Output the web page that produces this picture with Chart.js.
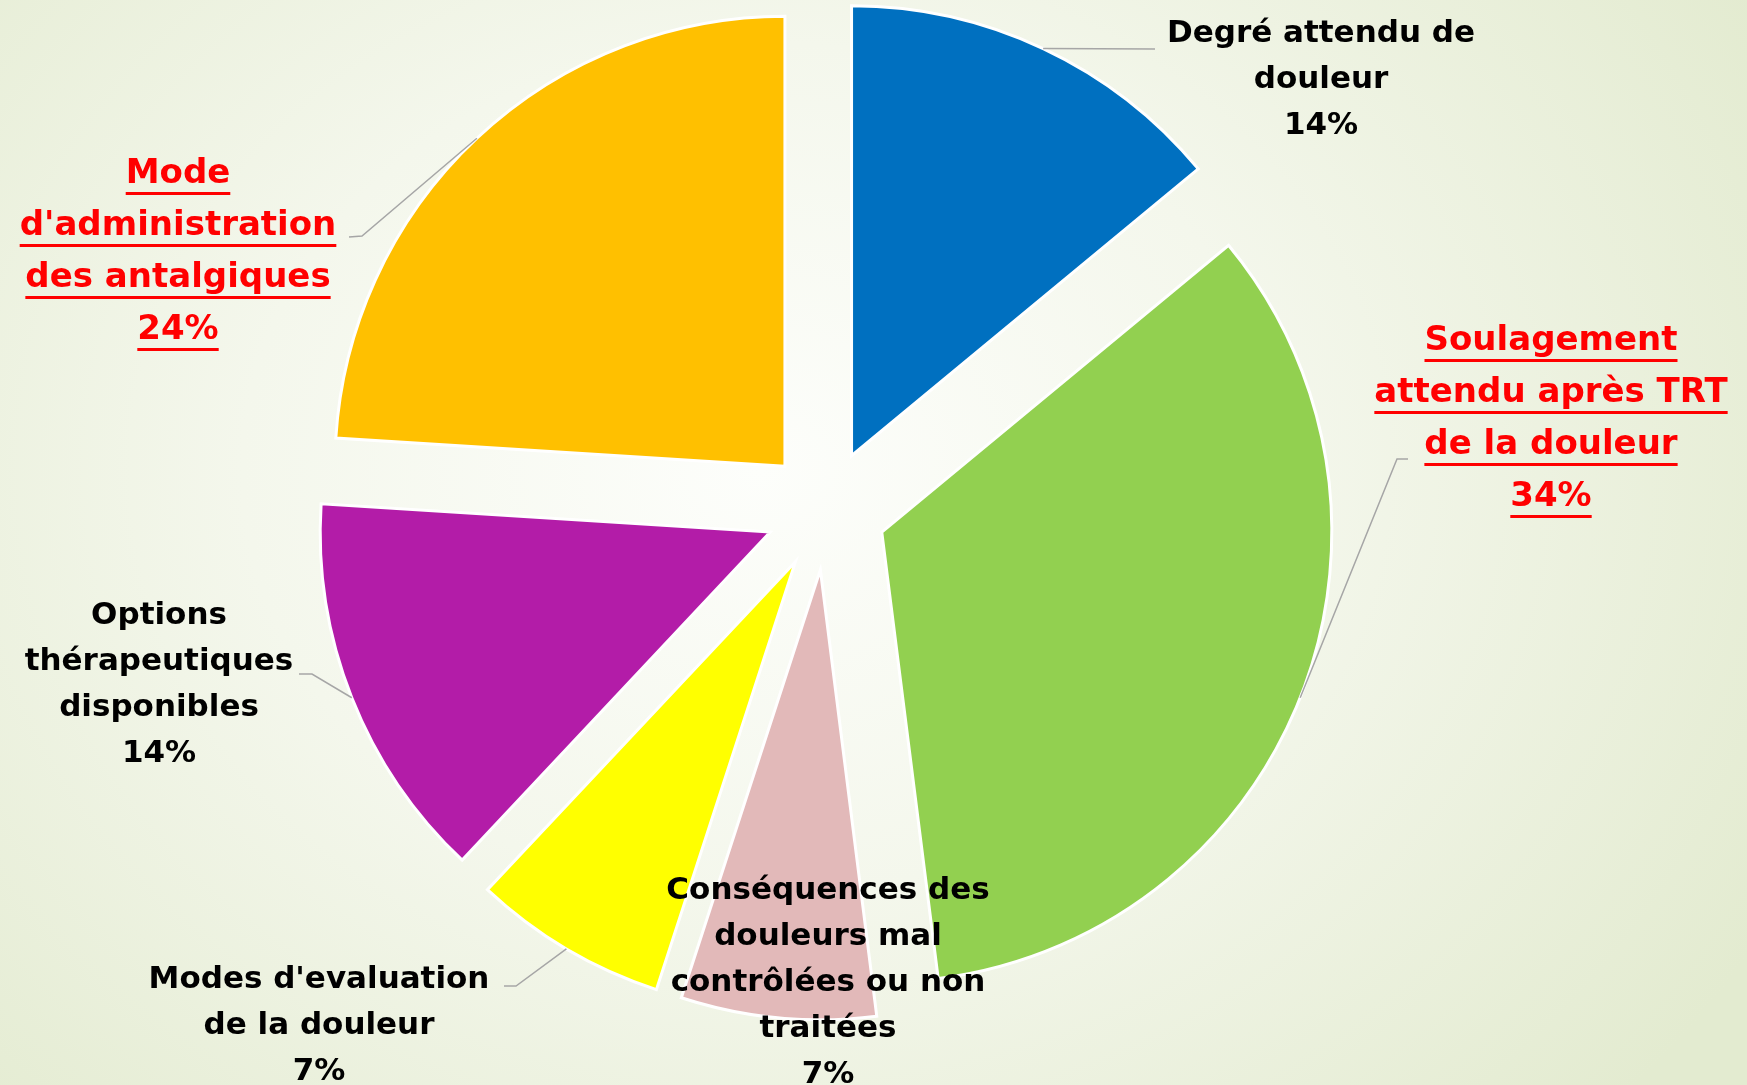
<!DOCTYPE html>
<html>
<head>
<meta charset="utf-8">
<script src="https://cdn.jsdelivr.net/npm/chart.js@4.4.1/dist/chart.umd.min.js"></script>
<style>
  html, body { margin: 0; padding: 0; }
  body {
    width: 1747px;
    height: 1085px;
    overflow: hidden;
    background: radial-gradient(ellipse 1150px 950px at 760px 470px, #fdfefb 0%, #f4f7ec 45%, #e3ebd0 100%);
  }
</style>
</head>
<body>
<canvas id="pie" width="1747" height="1085"></canvas>
<script>
// slices, clockwise from 12 o'clock
const categories = [
  "Degré attendu de\ndouleur",
  "Soulagement\nattendu après TRT\nde la douleur",
  "Conséquences des\ndouleurs mal\ncontrôlées ou non\ntraitées",
  "Modes d'evaluation\nde la douleur",
  "Options\nthérapeutiques\ndisponibles",
  "Mode\nd'administration\ndes antalgiques"
];
const percents = [14, 34, 7, 7, 14, 24];
const sliceColors = ["#0070c0", "#92d050", "#e2b9b9", "#ffff00", "#b31ca8", "#ffc000"];
const highlighted = [false, true, false, false, false, true];

// where each label sits (centre x, first line y) and the bends of its leader line
const labelBoxes = [
  { x: 1321, y: 34, leader: [[1155, 49]] },
  { x: 1551, y: 341, leader: [[1397, 459], [1408, 459]] },
  { x: 828, y: 891, leader: null },
  { x: 319, y: 980, leader: [[516, 986], [504, 986]] },
  { x: 159, y: 616, leader: [[312, 674], [299, 674]] },
  { x: 178, y: 174, leader: [[362, 236], [349, 237]] }
];

// arc that is pushed out whole along its bisector (like an exploded office pie)
class ExplodedArc extends Chart.ArcElement {
  draw(ctx) {
    const opts = this.options;
    const { x, y, startAngle, endAngle, outerRadius } = this;
    const mid = (startAngle + endAngle) / 2;
    const shift = opts.offset || 0;
    ctx.save();
    ctx.translate(Math.cos(mid) * shift, Math.sin(mid) * shift);
    ctx.beginPath();
    ctx.moveTo(x, y);
    ctx.arc(x, y, outerRadius, startAngle, endAngle);
    ctx.closePath();
    ctx.fillStyle = opts.backgroundColor;
    ctx.fill();
    if (opts.borderWidth) {
      ctx.lineWidth = opts.borderWidth;
      ctx.strokeStyle = opts.borderColor;
      ctx.lineJoin = "miter";
      ctx.stroke();
    }
    ctx.restore();
  }
}
ExplodedArc.id = "explodedArc";

class ExplodedPie extends Chart.PieController {}
ExplodedPie.id = "explodedPie";
ExplodedPie.defaults = { dataElementType: "explodedArc" };

Chart.register(ExplodedArc, ExplodedPie);

const sliceLabels = {
  id: "sliceLabels",
  afterDatasetsDraw(chart) {
    const ctx = chart.ctx;
    const arcs = chart.getDatasetMeta(0).data;
    arcs.forEach((arc, i) => {
      const box = labelBoxes[i];
      if (box.leader) {
        const mid = (arc.startAngle + arc.endAngle) / 2;
        const r = arc.outerRadius + arc.options.offset;
        ctx.save();
        ctx.beginPath();
        ctx.moveTo(arc.x + Math.cos(mid) * r, arc.y + Math.sin(mid) * r);
        box.leader.forEach((p) => ctx.lineTo(p[0], p[1]));
        ctx.strokeStyle = "#a6a6a6";
        ctx.lineWidth = 1.5;
        ctx.stroke();
        ctx.restore();
      }

      const lines = categories[i].split("\n").concat(percents[i] + "%");
      const red = highlighted[i];
      const lineH = red ? 52 : 46;
      ctx.save();
      ctx.font = (red ? "bold 34px" : "bold 31px") + ' "DejaVu Sans"';
      ctx.fillStyle = red ? "#ff0000" : "#000000";
      ctx.textAlign = "center";
      ctx.textBaseline = "middle";
      lines.forEach((line, k) => {
        const ly = box.y + k * lineH;
        ctx.fillText(line, box.x, ly);
        if (red) {
          const w = ctx.measureText(line).width;
          ctx.fillRect(box.x - w / 2, ly + 18, w, 3);
        }
      });
      ctx.restore();
    });
  }
};

new Chart(document.getElementById("pie"), {
  type: "explodedPie",
  data: {
    labels: categories,
    datasets: [{
      data: percents,
      backgroundColor: sliceColors,
      borderColor: "#ffffff",
      borderWidth: 3,
      offset: 60,
      radius: 450
    }]
  },
  options: {
    responsive: false,
    animation: false,
    layout: { padding: { left: 0, right: 95, top: 0, bottom: 65 } },
    plugins: {
      legend: { display: false },
      tooltip: { enabled: false }
    }
  },
  plugins: [sliceLabels]
});
</script>
</body>
</html>
